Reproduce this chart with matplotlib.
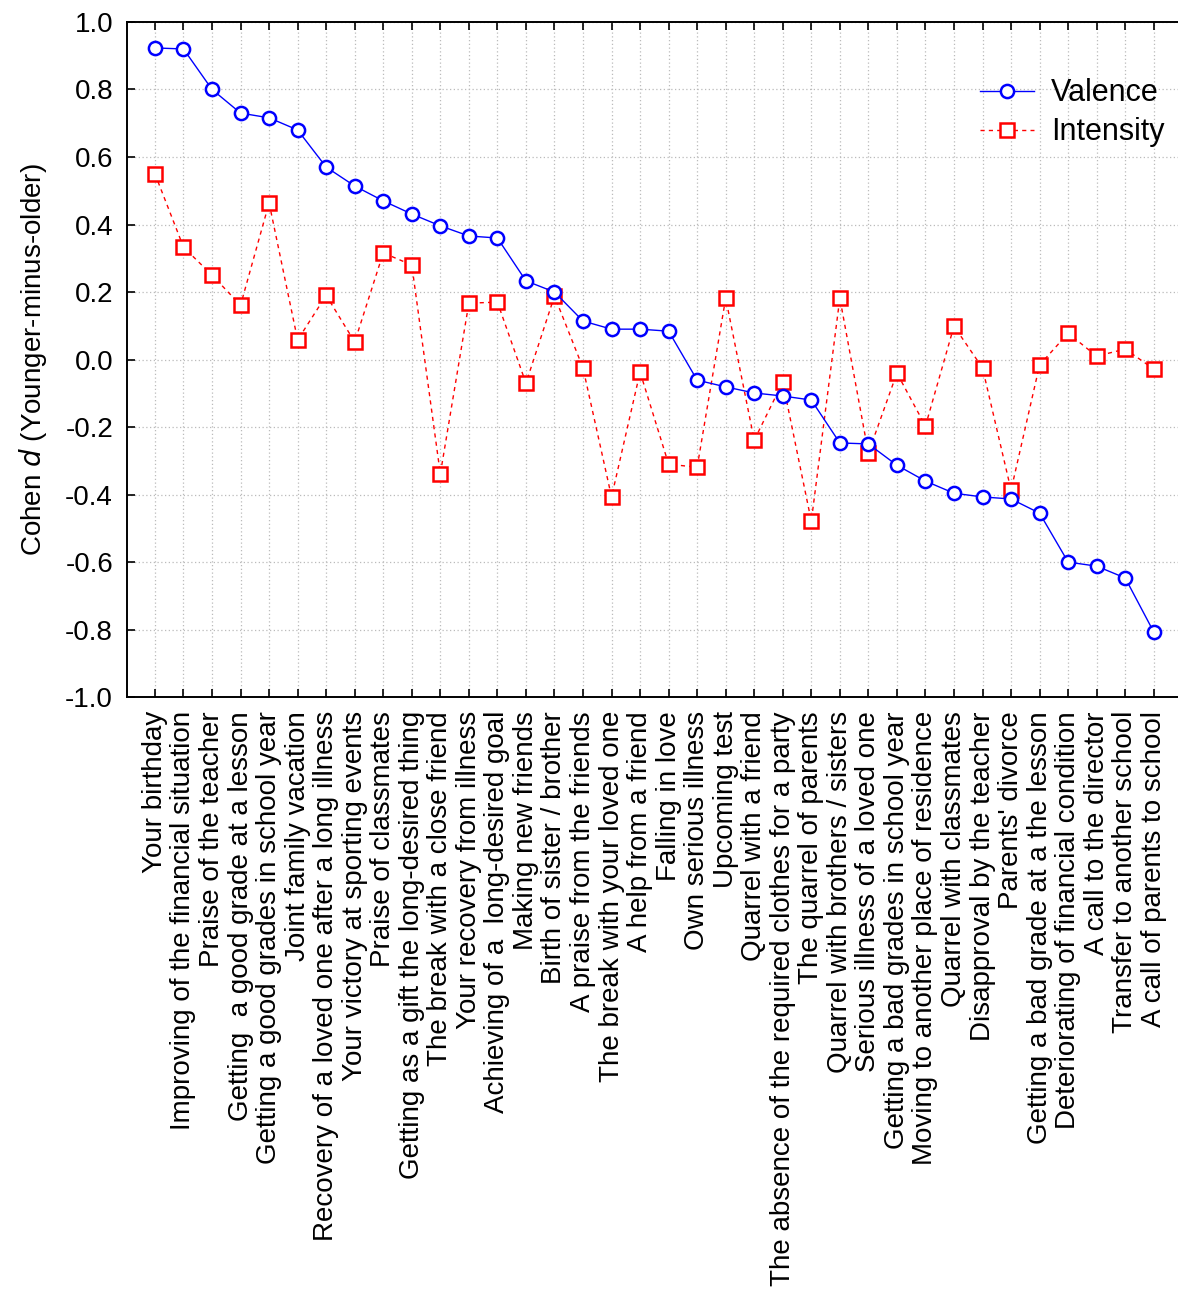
import matplotlib
matplotlib.use('Agg')
import matplotlib.pyplot as plt

plt.rcParams['font.family'] = ['Liberation Sans', 'DejaVu Sans']

# ── Data ──
events = [
    'Your birthday', 'Improving of the financial situation', 'Praise of the teacher',
    'Getting  a good grade at a lesson', 'Getting a good grades in school year',
    'Joint family vacation', 'Recovery of a loved one after a long illness',
    'Your victory at sporting events', 'Praise of classmates',
    'Getting as a gift the long-desired thing', 'The break with a close friend',
    'Your recovery from illness', 'Achieving of a  long-desired goal',
    'Making new friends', 'Birth of sister / brother', 'A praise from the friends',
    'The break with your loved one', 'A help from a friend', 'Falling in love',
    'Own serious illness', 'Upcoming test', 'Quarrel with a friend',
    'The absence of the required clothes for a party', 'The quarrel of parents',
    'Quarrel with brothers / sisters', 'Serious illness of a loved one',
    'Getting a bad grades in school year', 'Moving to another place of residence',
    'Quarrel with classmates', 'Disapproval by the teacher', "Parents' divorce",
    'Getting a bad grade at a the lesson', 'Deteriorating of financial condition',
    'A call to the director', 'Transfer to another school', 'A call of parents to school',
]

valence = [0.923, 0.920, 0.800, 0.730, 0.716, 0.680, 0.570, 0.514, 0.470, 0.431,
           0.396, 0.366, 0.360, 0.233, 0.200, 0.114, 0.090, 0.090, 0.084, -0.061,
           -0.081, -0.099, -0.108, -0.120, -0.247, -0.250, -0.313, -0.360, -0.396,
           -0.407, -0.413, -0.455, -0.600, -0.612, -0.647, -0.807]

intensity = [0.550, 0.333, 0.250, 0.161, 0.464, 0.058, 0.190, 0.052, 0.316, 0.280,
             -0.339, 0.167, 0.170, -0.070, 0.188, -0.025, -0.407, -0.037, -0.310,
             -0.319, 0.182, -0.239, -0.067, -0.479, 0.182, -0.277, -0.040, -0.197,
             0.099, -0.025, -0.387, -0.016, 0.078, 0.010, 0.031, -0.028]

yticks = [-1.0, -0.8, -0.6, -0.4, -0.2, 0.0, 0.2, 0.4, 0.6, 0.8, 1.0]

# ── Chart ──
fig = plt.figure(figsize=(11.78, 12.91), dpi=100)
ax = fig.add_axes([0.1078, 0.460, 0.8922, 0.523])

x = list(range(len(events)))
ax.plot(x, valence, color='#0000FF', linestyle='-', linewidth=1.0,
        marker='o', markersize=9.5, markerfacecolor='white',
        markeredgecolor='#0000FF', markeredgewidth=1.8, label='Valence', zorder=5)
ax.plot(x, intensity, color='#FF0000', linestyle=(0, (3, 3)), linewidth=1.0,
        marker='s', markersize=10, markerfacecolor='white',
        markeredgecolor='#FF0000', markeredgewidth=1.8, label='Intensity', zorder=4)

ax.set_xlim(-0.98, 35.85)
ax.set_ylim(-1.0, 1.0)
ax.set_xticks(x)
ax.set_xticklabels(events, rotation=90, fontsize=20, va='top')
ax.set_yticks(yticks)
ax.set_yticklabels([f'{v:.1f}' for v in yticks], fontsize=20)

ax.tick_params(axis='both', direction='in', length=6, width=1.2, color='black')
ax.tick_params(axis='x', pad=10, top=True)
ax.tick_params(axis='y', pad=10)
ax.spines['right'].set_visible(False)
for s in ['left', 'top', 'bottom']:
    ax.spines[s].set_linewidth(1.4)

ax.grid(True, color='#BBBBBB', linestyle=(0, (1, 2)), linewidth=0.9)
ax.set_axisbelow(True)

ax.set_ylabel('Cohen $\\it{d}$ (Younger-minus-older)', fontsize=20, labelpad=12)

ax.legend(loc='upper right', bbox_to_anchor=(1.0, 0.937), frameon=False,
          fontsize=22, handlelength=1.75, handletextpad=0.55, labelspacing=0.3,
          borderaxespad=0.05)

plt.savefig('out.png', dpi=100)
